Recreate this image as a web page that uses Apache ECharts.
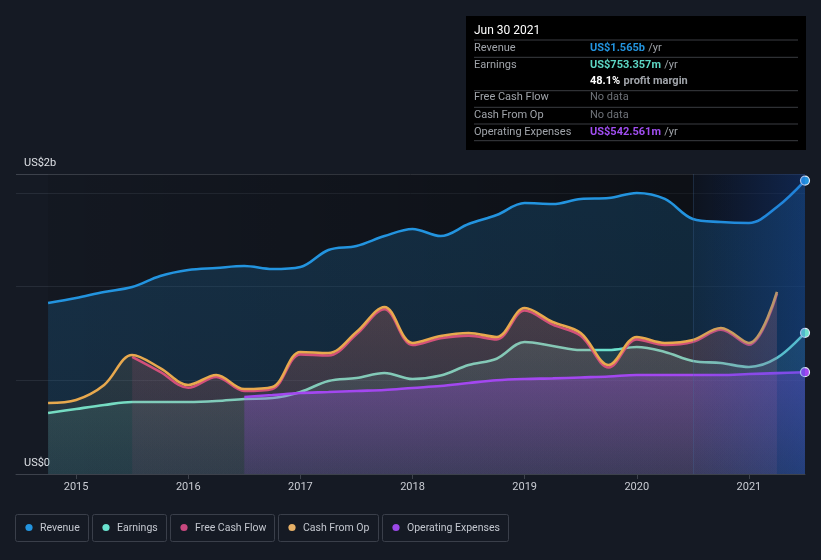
<!DOCTYPE html>
<html><head><meta charset="utf-8">
<script src="https://cdn.jsdelivr.net/npm/echarts@6/dist/echarts.min.js"></script>
<style>html,body{margin:0;padding:0;background:#151a24;}#c{width:821px;height:560px;}</style>
</head><body><div id="c"></div><script>
// ---- data (US$ billions, trailing twelve months, quarterly) ----
const quarters = [2014.75,2015,2015.25,2015.5,2015.75,2016,2016.25,2016.5,2016.75,2017,2017.25,2017.5,2017.75,2018,2018.25,2018.5,2018.75,2019,2019.25,2019.5,2019.75,2020,2020.25,2020.5,2020.75,2021,2021.25,2021.5];
const revenue = [0.912,0.939,0.971,0.997,1.056,1.088,1.099,1.109,1.093,1.104,1.195,1.216,1.269,1.307,1.269,1.333,1.381,1.445,1.440,1.467,1.472,1.499,1.467,1.360,1.344,1.339,1.424,1.565];
const earnings = [0.325,0.347,0.368,0.384,0.384,0.384,0.389,0.400,0.405,0.437,0.496,0.512,0.539,0.507,0.525,0.581,0.615,0.704,0.683,0.661,0.661,0.677,0.651,0.603,0.592,0.571,0.619,0.753];
const freeCashFlow = [null,null,null,0.625,0.545,0.460,0.518,0.443,0.454,0.638,0.632,0.745,0.879,0.688,0.724,0.738,0.718,0.872,0.797,0.738,0.568,0.718,0.688,0.705,0.770,0.690,0.962,null];
const cashFromOp = [0.379,0.395,0.475,0.635,0.565,0.475,0.528,0.453,0.464,0.651,0.645,0.757,0.891,0.699,0.736,0.752,0.731,0.885,0.811,0.752,0.581,0.731,0.699,0.715,0.779,0.699,0.971,null];
const operatingExpenses = [null,null,null,null,null,null,null,0.411,0.421,0.432,0.437,0.443,0.448,0.459,0.469,0.485,0.500,0.507,0.510,0.515,0.520,0.528,0.528,0.528,0.528,0.533,0.538,0.543];
const yearTicks = [2015,2016,2017,2018,2019,2020,2021];
const yTickLabels = {0: 'US$0', 1.6: 'US$2b'};
const seriesNames = ['Revenue','Earnings','Free Cash Flow','Cash From Op','Operating Expenses'];
const highlightStart = 2020.5, dataStart = 2014.75, dataEnd = 2021.5;
const tooltipTitle = 'Jun 30 2021';
const tooltipRows = [
  ['Revenue', 'US$1.565b', '/yr'],
  ['Earnings', 'US$753.357m', '/yr'],
  ['', '48.1%', 'profit margin'],
  ['Free Cash Flow', 'No data', ''],
  ['Cash From Op', 'No data', ''],
  ['Operating Expenses', 'US$542.561m', '/yr']
];

// ---- styles ----
const lineColors = ['#2394df','#6ce0cc','#d1477f','#e8a94e','#a347f0'];
const legendDot = ['#2394df','#6ae3d0','#c8487f','#e6b067','#9b48e8'];
const legendBoxW = [73,74,104,100,126];
const valueColors = ['#2394df','#5dd6c4',null,null,null,'#a04ef0'];
const FONT = 'Roboto, "Noto Sans", sans-serif';

function rgba(hex,a){const n=parseInt(hex.slice(1),16);return `rgba(${n>>16&255},${n>>8&255},${n&255},${a})`;}
function grad(hex,a1,a2){return new echarts.graphic.LinearGradient(0,0,0,1,[{offset:0,color:rgba(hex,a1)},{offset:1,color:rgba(hex,a2)}]);}
function pairs(arr, markLast, color){
  const out = quarters.map((q,i)=>[q,arr[i]]).filter(p=>p[1]!=null).map(p=>({value:p}));
  if (markLast){ const l=out[out.length-1]; l.symbol='circle'; l.symbolSize=9; l.itemStyle={color:color,borderColor:'#dfe8f5',borderWidth:1.2}; }
  return out;
}
const allData = [revenue, earnings, freeCashFlow, cashFromOp, operatingExpenses];
const areaAlpha = [[0.28,0.22],[0.20,0.10],[0.24,0.10],[0.18,0.07],[0.45,0.18]];
const markLastFlags = [true,true,false,false,true];

const series = allData.map((arr,i)=>({
  name: seriesNames[i], type:'line', smooth:0.35, symbol:'none', showSymbol:true,
  data: pairs(arr, markLastFlags[i], lineColors[i]),
  lineStyle:{color:lineColors[i], width:2.6},
  itemStyle:{color:lineColors[i]},
  areaStyle:{color:grad(lineColors[i], areaAlpha[i][0], areaAlpha[i][1]), origin:'start'},
  silent:true, animation:false, z:2+i
}));
// dark backdrop behind the data
series[0].markArea = {
  silent:true, z:1,
  data:[
    [{xAxis:dataStart, itemStyle:{color:new echarts.graphic.LinearGradient(0,0,1,0,[{offset:0,color:'rgba(0,0,0,0.08)'},{offset:0.92,color:'rgba(0,0,0,0.42)'},{offset:1,color:'rgba(0,0,0,0.45)'}])}},{xAxis:dataEnd}]
  ]
};
// last-year highlight overlay
series[4].markArea = {
  silent:true, z:10,
  data:[
    [{xAxis:highlightStart, itemStyle:{color:new echarts.graphic.LinearGradient(0,0,1,0,[{offset:0,color:'rgba(25,80,190,0.05)'},{offset:1,color:'rgba(25,90,210,0.30)'}])}},{xAxis:dataEnd}]
  ]
};
series[4].markLine = {silent:true, z:11, symbol:['none','none'], label:{show:false},
  lineStyle:{color:'rgba(70,110,160,0.25)', width:1, type:'solid'}, data:[{xAxis:highlightStart}]};

// ---- graphic: tooltip panel + legend ----
const graphic = [];
const px = 466, py = 16, pw = 340, ph = 134;
graphic.push({type:'rect', shape:{x:px,y:py,width:pw,height:ph}, style:{fill:'#000000'}, silent:true});
graphic.push({type:'text', x:474, y:31, style:{text:tooltipTitle, font:'12px '+FONT, fill:'#ffffff', verticalAlign:'middle', textVerticalAlign:'middle'}});
const rowY = [48.3, 65.3, 81, 97.7, 115, 132.3];
const sepY = [40, 57.3, 90.7, 107.3, 124, 140.7];
sepY.forEach(y=>graphic.push({type:'line', shape:{x1:474,y1:y,x2:798,y2:y}, style:{stroke:'#3a3d42', lineWidth:1}}));
tooltipRows.forEach((r,i)=>{
  if (r[0]) graphic.push({type:'text', x:474, y:rowY[i], style:{text:r[0], font:'11px '+FONT, fill:'#a0a4aa', verticalAlign:'middle', textVerticalAlign:'middle'}});
  let txt, rich;
  if (r[1]==='No data'){ txt='{n|No data}'; rich={n:{fill:'#6e7278', fontSize:11, fontFamily:FONT}}; }
  else if (!r[0]){ txt='{b|'+r[1]+'} {u|'+r[2]+'}'; rich={b:{fill:'#ffffff',fontWeight:'bold',fontSize:11,fontFamily:FONT},u:{fill:'#a0a4aa',fontWeight:'bold',fontSize:11,fontFamily:FONT}}; }
  else { txt='{v|'+r[1]+'} {u|'+r[2]+'}'; rich={v:{fill:valueColors[i],fontWeight:'bold',fontSize:11,fontFamily:FONT},u:{fill:'#a0a4aa',fontSize:11,fontFamily:FONT}}; }
  graphic.push({type:'text', x:590, y:rowY[i], style:{text:txt, rich:rich, verticalAlign:'middle', textVerticalAlign:'middle'}});
});
// legend
let lx = 15;
seriesNames.forEach((n,i)=>{
  const bw = legendBoxW[i];
  graphic.push({type:'rect', shape:{x:lx+0.5,y:514.5,width:bw,height:27,r:2}, style:{fill:'none', stroke:'#3a3f4a', lineWidth:1}});
  graphic.push({type:'circle', shape:{cx:lx+14, cy:527.5, r:3.6}, style:{fill:legendDot[i]}});
  graphic.push({type:'text', x:lx+25, y:528, style:{text:n, font:'10.5px '+FONT, fill:'#c3c7cf', verticalAlign:'middle', textVerticalAlign:'middle'}});
  lx += bw + 4;
});

const chart = echarts.init(document.getElementById('c'), null, {renderer:'canvas'});
chart.setOption({
  backgroundColor:'#151a24',
  animation:false,
  grid:{left:16, right:16, top:174, bottom:86, containLabel:false},
  xAxis:{type:'value', min:2014.464, max:dataEnd,
    axisLine:{show:true, lineStyle:{color:'#3d424c', width:1}},
    axisTick:{show:true, length:5, lineStyle:{color:'#3d424c'}, customValues:yearTicks},
    axisLabel:{show:true, color:'#c9ccd3', fontSize:11, fontFamily:FONT, margin:8, customValues:yearTicks, formatter:v=>String(v)},
    splitLine:{show:false}},
  yAxis:{type:'value', min:0, max:1.6, interval:0.5,
    axisLine:{show:false}, axisTick:{show:false},
    axisLabel:{show:true, inside:true, margin:8, verticalAlign:'bottom', padding:[0,0,5,0], color:'#dde0e5', fontSize:11, fontFamily:FONT,
      showMinLabel:true, showMaxLabel:true,
      formatter:v=>{const k=Math.round(v*10)/10; return yTickLabels[k]!==undefined?yTickLabels[k]:'';}},
    splitLine:{show:true, lineStyle:{color:['#3d424c','#262c37','#262c37','#262c37','#3d424c'], width:1}}},
  series: series,
  graphic: graphic
});
</script></body></html>
